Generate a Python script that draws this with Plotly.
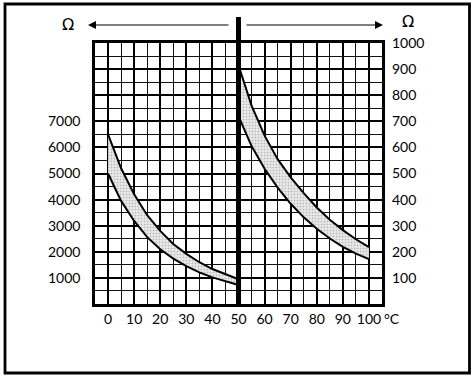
import plotly.graph_objects as go

W, H = 474, 377

# ---- data ----
temp_left = [0, 5, 10, 15, 20, 25, 30, 35, 40, 45, 50]
ohm_left_upper = [6500, 5200, 4200, 3400, 2800, 2300, 1920, 1600, 1340, 1130, 950]
ohm_left_lower = [5000, 3950, 3180, 2560, 2100, 1740, 1450, 1210, 1020, 860, 730]

temp_right = [50, 55, 60, 65, 70, 75, 80, 85, 90, 95, 100]
ohm_right_upper = [915, 760, 645, 555, 485, 425, 370, 323, 283, 248, 218]
ohm_right_lower = [720, 605, 518, 446, 384, 332, 288, 251, 219, 193, 172]

x_ticks = [0, 10, 20, 30, 40, 50, 60, 70, 80, 90, 100]
x_labels = ["0", "10", "20", "30", "40", "50", "60", "70", "80", "90", "100"]
yl_ticks = [0, 1000, 2000, 3000, 4000, 5000, 6000, 7000, 8000, 9000, 10000]
yl_labels = ["", "1000", "2000", "3000", "4000", "5000", "6000", "7000", "", "", ""]
yr_ticks = [100, 200, 300, 400, 500, 600, 700, 800, 900, 1000]
yr_labels = ["100", "200", "300", "400", "500", "600", "700", "800", "900", "1000"]

FONT = "Lato"
px = lambda v: v / W
py = lambda v: 1 - v / H

fill_pat = dict(shape=".", fgcolor="#8a8a8a", bgcolor="#ececec", size=3, solidity=0.35)

fig = go.Figure()
# left band
fig.add_trace(go.Scatter(x=temp_left, y=ohm_left_lower, mode="lines",
                         line=dict(color="black", width=2), showlegend=False))
fig.add_trace(go.Scatter(x=temp_left, y=ohm_left_upper, mode="lines",
                         line=dict(color="black", width=2), fill="tonexty",
                         fillcolor="#e0e0e0", fillpattern=fill_pat, showlegend=False))
# right band
fig.add_trace(go.Scatter(x=temp_right, y=ohm_right_lower, mode="lines", yaxis="y2",
                         line=dict(color="black", width=2), showlegend=False))
fig.add_trace(go.Scatter(x=temp_right, y=ohm_right_upper, mode="lines", yaxis="y2",
                         line=dict(color="black", width=2), fill="tonexty",
                         fillcolor="#e0e0e0", fillpattern=fill_pat, showlegend=False))

fig.update_layout(
    width=W, height=H, autosize=False,
    margin=dict(l=0, r=0, t=0, b=0, pad=0, autoexpand=False),
    paper_bgcolor="white", plot_bgcolor="white",
    showlegend=False,
    font=dict(family=FONT, size=14, color="black"),
    xaxis=dict(domain=[px(95), px(382)], range=[-5, 105],
               tickvals=x_ticks, ticktext=x_labels,
               showgrid=True, gridcolor="black", gridwidth=1.8,
               minor=dict(dtick=5, tick0=0, showgrid=True, gridcolor="#111", gridwidth=1),
               showline=True, linecolor="black", linewidth=2.5, mirror=True,
               ticks="", ticklabelstandoff=0, zeroline=False, automargin=False),
    yaxis=dict(domain=[py(304), py(43)], range=[0, 10000],
               tickvals=yl_ticks, ticktext=yl_labels,
               showgrid=True, gridcolor="black", gridwidth=1.8,
               minor=dict(dtick=500, tick0=0, showgrid=True, gridcolor="#111", gridwidth=1),
               showline=True, linecolor="black", linewidth=2.5, mirror=True,
               ticks="", ticklabelstandoff=9, zeroline=False, automargin=False),
    yaxis2=dict(overlaying="y", side="right", range=[0, 1000],
                tickvals=yr_ticks, ticktext=yr_labels, showgrid=False,
                ticks="", ticklabelstandoff=9, zeroline=False, showline=False,
                automargin=False),
)

shapes = []
# outer frame
shapes.append(dict(type="rect", xref="paper", yref="paper",
                   x0=px(5), x1=px(469.5), y0=py(373), y1=py(4),
                   line=dict(color="black", width=2.8)))
# thick divider at 50 °C
shapes.append(dict(type="line", xref="x", yref="paper", x0=50, x1=50,
                   y0=py(304), y1=py(17), line=dict(color="black", width=5)))
fig.update_layout(shapes=shapes)

ann = []
# arrows
ann.append(dict(xref="paper", yref="paper", x=px(88), y=py(25), text="",
                showarrow=True, axref="pixel", ayref="pixel", ax=142, ay=0,
                arrowhead=2, arrowsize=1.6, arrowwidth=1, arrowcolor="black"))
ann.append(dict(xref="paper", yref="paper", x=px(383), y=py(25), text="",
                showarrow=True, axref="pixel", ayref="pixel", ax=-138, ay=0,
                arrowhead=2, arrowsize=1.6, arrowwidth=1, arrowcolor="black"))
ann.append(dict(xref="paper", yref="paper", x=px(68), y=py(25), text="Ω",
                yanchor="middle", xanchor="center", showarrow=False,
                font=dict(family="DejaVu Sans", size=16, color="black")))
ann.append(dict(xref="paper", yref="paper", x=px(408), y=py(22), text="Ω",
                yanchor="middle", xanchor="center", showarrow=False,
                font=dict(family="DejaVu Sans", size=16, color="black")))
ann.append(dict(xref="paper", yref="paper", x=px(382), y=py(318), text="°C",
                yanchor="middle", xanchor="left", showarrow=False,
                font=dict(family=FONT, size=14, color="black")))
fig.update_layout(annotations=ann)

fig.write_html("out.html",
               config={"displayModeBar": False, "responsive": False},
               post_script="document.body.style.margin='0';document.body.style.overflow='hidden';")
